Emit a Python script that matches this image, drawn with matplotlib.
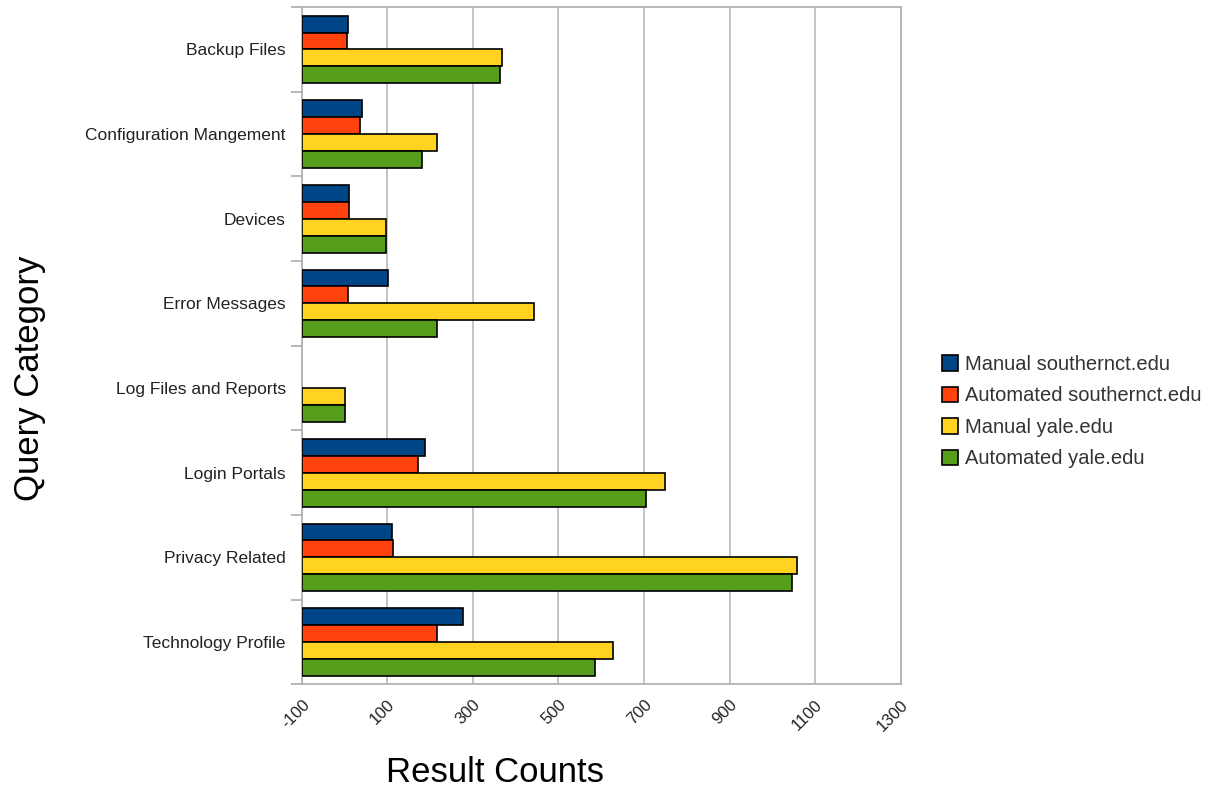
import matplotlib
matplotlib.use("Agg")
from matplotlib import pyplot as plt
import numpy as np

plt.rcParams['font.family'] = ['Liberation Sans', 'DejaVu Sans']

categories = ["Backup Files", "Configuration Mangement", "Devices", "Error Messages",
              "Log Files and Reports", "Login Portals", "Privacy Related", "Technology Profile"]
series_names = ["Manual southernct.edu", "Automated southernct.edu",
                "Manual yale.edu", "Automated yale.edu"]
manual_sct = [7, 40, 11, 102, np.nan, 188, 110, 278]
auto_sct = [6, 35, 10, 7, np.nan, 171, 114, 217]
manual_yale = [368, 217, 97, 443, 0, 750, 1058, 627]
auto_yale = [364, 180, 97, 217, 0, 704, 1045, 585]
xticks = [-100, 100, 300, 500, 700, 900, 1100, 1300]

colors = ["#004586", "#ff420e", "#ffd320", "#579d1c"]
origin = -100

fig = plt.figure(figsize=(12.17, 7.93), dpi=100)
ax = fig.add_axes([0.248, 0.137, 0.492, 0.854])

y = np.arange(len(categories))
bar_h = 0.2
for k, (vals, name) in enumerate(zip([manual_sct, auto_sct, manual_yale, auto_yale], series_names)):
    vals = np.array(vals, dtype=float)
    ax.barh(y + (k - 1.5) * bar_h, vals - origin, left=origin, height=bar_h,
            color=colors[k], edgecolor="black", linewidth=1.2, label=name, zorder=3)

ax.set_xlim(-100, 1300)
ax.set_xticks(xticks)
ax.set_xticklabels([str(t) for t in xticks], rotation=45, ha="right",
                   rotation_mode="anchor", fontsize=12, color="#222222")
ax.tick_params(axis="x", length=0, pad=9)
ax.grid(axis="x", color="#c0c0c0", linewidth=1.3, zorder=0)

ax.set_ylim(len(categories) - 0.5, -0.5)
ax.set_yticks(y)
ax.set_yticklabels(categories, fontsize=12.5, color="#222222")
ax.set_yticks(np.arange(len(categories) + 1) - 0.5, minor=True)
ax.tick_params(axis="y", which="major", length=0, pad=11.5)
ax.tick_params(axis="y", which="minor", length=8, color="#b3b3b3", width=1.3)

for s in ax.spines.values():
    s.set_color("#b3b3b3")
    s.set_linewidth(1.3)

fig.text(495 / 1217, 1 - 773 / 793, "Result Counts", fontsize=25, ha="center", va="center")
fig.text(30 / 1217, 1 - 378 / 793, "Query Category", fontsize=25, ha="center", va="center",
         rotation=90)

leg = fig.legend(loc="center left", bbox_to_anchor=(0.759, 0.481), frameon=False,
                 fontsize=14.5, handlelength=0.8, handleheight=0.8, handletextpad=0.35,
                 labelspacing=0.62)
for t in leg.get_texts():
    t.set_color("#333333")

fig.savefig("out.png", dpi=100)
